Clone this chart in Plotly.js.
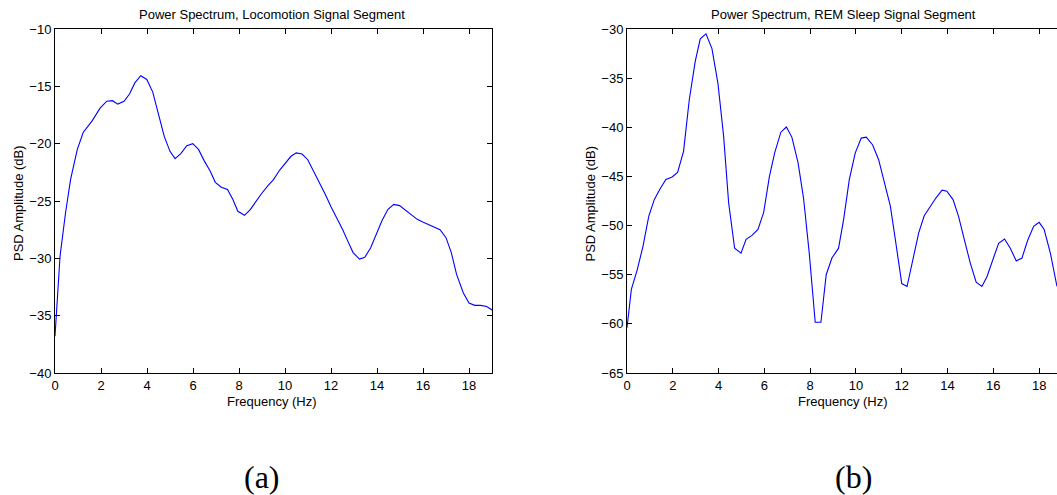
<!DOCTYPE html>
<html>
<head>
<meta charset="utf-8">
<script src="https://cdn.plot.ly/plotly-3.0.1.min.js"></script>
<style>html,body{margin:0;padding:0;background:#fff;overflow:hidden}#plot{width:1057px;height:495px}</style>
</head>
<body>
<div id="plot"></div>
<script>
// Locomotion signal segment PSD (dB) vs frequency (Hz)
var locoFreq = [0, 0.22, 0.46, 0.68, 0.97, 1.23, 1.6, 1.96, 2.25, 2.5, 2.73, 3.0, 3.24, 3.47, 3.73, 3.99, 4.25, 4.5, 4.75, 5.0, 5.22, 5.47, 5.73, 5.99, 6.24, 6.49, 6.75, 6.97, 7.23, 7.5, 7.74, 7.95, 8.24, 8.49, 8.75, 9.0, 9.26, 9.5, 9.77, 10.0, 10.26, 10.49, 10.74, 10.99, 11.25, 11.5, 11.76, 12.0, 12.26, 12.51, 12.73, 12.96, 13.24, 13.47, 13.72, 13.98, 14.22, 14.47, 14.73, 14.98, 15.24, 15.49, 15.75, 15.99, 16.25, 16.5, 16.74, 17.0, 17.23, 17.46, 17.75, 18.0, 18.25, 18.5, 18.77, 19.0];
var locoPSD = [-36.8, -29.8, -26.0, -23.1, -20.5, -19.0, -18.05, -16.9, -16.3, -16.25, -16.55, -16.3, -15.67, -14.7, -14.07, -14.4, -15.5, -17.5, -19.36, -20.67, -21.3, -20.87, -20.17, -20.0, -20.5, -21.5, -22.4, -23.37, -23.8, -24.0, -24.9, -25.9, -26.25, -25.75, -25.0, -24.3, -23.66, -23.14, -22.3, -21.7, -21.1, -20.8, -20.9, -21.4, -22.4, -23.4, -24.45, -25.5, -26.5, -27.5, -28.5, -29.5, -30.06, -29.9, -29.1, -27.9, -26.7, -25.75, -25.3, -25.4, -25.8, -26.2, -26.6, -26.83, -27.06, -27.27, -27.5, -28.2, -29.5, -31.4, -33.0, -33.9, -34.1, -34.1, -34.2, -34.5];

// REM sleep signal segment PSD (dB) vs frequency (Hz)
var remFreq = [0, 0.19, 0.44, 0.7, 0.95, 1.19, 1.46, 1.7, 1.97, 2.21, 2.47, 2.72, 2.98, 3.2, 3.45, 3.71, 3.97, 4.22, 4.44, 4.7, 4.98, 5.2, 5.46, 5.72, 5.97, 6.22, 6.45, 6.72, 6.96, 7.2, 7.47, 7.71, 7.96, 8.22, 8.47, 8.7, 8.95, 9.24, 9.46, 9.71, 9.97, 10.23, 10.45, 10.73, 10.99, 11.24, 11.5, 11.75, 12.0, 12.23, 12.47, 12.74, 12.98, 13.25, 13.49, 13.76, 13.97, 14.24, 14.48, 14.73, 14.99, 15.25, 15.5, 15.72, 15.98, 16.23, 16.49, 16.74, 17.0, 17.25, 17.5, 17.76, 18.0, 18.22, 18.49, 18.78];
var remPSD = [-60.4, -56.5, -54.55, -52.1, -49.06, -47.36, -46.2, -45.3, -45.06, -44.6, -42.45, -37.2, -33.3, -31.0, -30.5, -32.0, -35.5, -40.9, -47.7, -52.3, -52.8, -51.4, -51.0, -50.4, -48.65, -45.0, -42.6, -40.5, -39.97, -41.0, -43.6, -47.2, -52.8, -59.84, -59.84, -55.0, -53.3, -52.3, -49.4, -45.3, -42.6, -41.1, -41.0, -41.8, -43.3, -45.5, -48.0, -51.9, -55.9, -56.2, -53.5, -50.75, -49.0, -47.97, -47.2, -46.4, -46.5, -47.36, -49.06, -51.4, -53.8, -55.77, -56.2, -55.2, -53.5, -51.8, -51.36, -52.3, -53.6, -53.3, -51.5, -50.07, -49.67, -50.4, -52.8, -56.2];

var xTicks = [0, 2, 4, 6, 8, 10, 12, 14, 16, 18];
var locoYTicks = [-40, -35, -30, -25, -20, -15, -10];
var remYTicks = [-65, -60, -55, -50, -45, -40, -35, -30];

var titles = ['Power Spectrum, Locomotion Signal Segment', 'Power Spectrum, REM Sleep Signal Segment'];
var xLabel = 'Frequency (Hz)';
var yLabel = 'PSD Amplitude (dB)';
var captions = ['(a)', '(b)'];

var W = 1057, H = 495;
var tickFont = {family: 'Liberation Sans, Arial, sans-serif', size: 13, color: '#000'};
var capFont = {family: 'Liberation Serif, Times New Roman, serif', size: 32, color: '#000'};
var lineStyle = {color: '#0000ff', width: 1.1};

var traces = [
  {x: locoFreq, y: locoPSD, type: 'scatter', mode: 'lines', line: lineStyle, xaxis: 'x', yaxis: 'y', hoverinfo: 'skip'},
  {x: remFreq, y: remPSD, type: 'scatter', mode: 'lines', line: lineStyle, xaxis: 'x2', yaxis: 'y2', hoverinfo: 'skip'}
];

function axisBase(extra) {
  var a = {
    showgrid: false, zeroline: false, showline: true, linecolor: '#000', linewidth: 1,
    ticks: 'inside', ticklen: 5, tickwidth: 1, tickcolor: '#000', mirror: 'ticks',
    tickfont: tickFont, fixedrange: true
  };
  for (var k in extra) a[k] = extra[k];
  return a;
}

function ann(text, px, py, font, angle) {
  var a = {text: text, xref: 'paper', yref: 'paper', x: px / W, y: 1 - py / H, showarrow: false,
           xanchor: 'center', yanchor: 'middle', font: font};
  if (angle) a.textangle = angle;
  return a;
}

var yDom = [(H - 373) / H, (H - 29) / H];
var layout = {
  width: W, height: H,
  margin: {l: 0, r: 0, t: 0, b: 0},
  paper_bgcolor: '#fff', plot_bgcolor: '#fff',
  showlegend: false,
  xaxis: axisBase({domain: [55 / W, 492 / W], range: [0, 19], tickvals: xTicks, anchor: 'y'}),
  yaxis: axisBase({domain: yDom, range: [-40, -10], tickvals: locoYTicks, anchor: 'x'}),
  xaxis2: axisBase({domain: [627 / W, 1], range: [0, 18.78], tickvals: xTicks, anchor: 'y2'}),
  yaxis2: axisBase({domain: yDom, range: [-65, -30], tickvals: remYTicks, anchor: 'x2', mirror: false}),
  annotations: [
    ann(titles[0], 272, 15, tickFont),
    ann(titles[1], 843.5, 15, tickFont),
    ann(xLabel, 272, 401.5, tickFont),
    ann(xLabel, 843, 401.5, tickFont),
    ann(yLabel, 18.5, 203.5, tickFont, -90),
    ann(yLabel, 590, 203.5, tickFont, -90),
    ann(captions[0], 262, 477, capFont),
    ann(captions[1], 853, 477, capFont)
  ]
};

Plotly.newPlot('plot', traces, layout, {staticPlot: true, displayModeBar: false});
</script>
</body>
</html>
